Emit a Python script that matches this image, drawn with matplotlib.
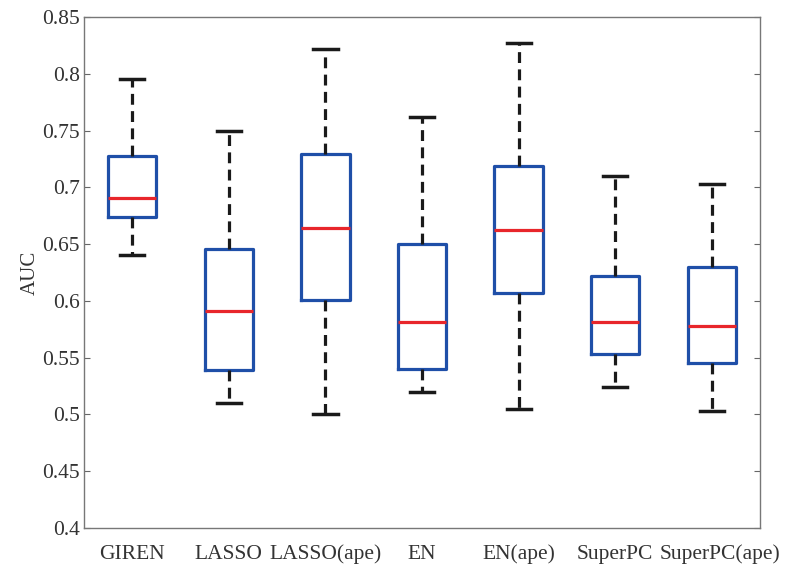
import matplotlib
matplotlib.use("Agg")
import matplotlib.pyplot as plt
from matplotlib.transforms import ScaledTranslation

methods = ["GIREN", "LASSO", "LASSO(ape)", "EN", "EN(ape)", "SuperPC", "SuperPC(ape)"]
whislo = [0.640, 0.510, 0.500, 0.520, 0.505, 0.524, 0.503]
q1 = [0.674, 0.539, 0.601, 0.540, 0.607, 0.553, 0.545]
med = [0.691, 0.591, 0.664, 0.581, 0.662, 0.581, 0.578]
q3 = [0.728, 0.646, 0.729, 0.650, 0.719, 0.622, 0.630]
whishi = [0.795, 0.750, 0.822, 0.762, 0.827, 0.710, 0.703]
yticks = [0.4, 0.45, 0.5, 0.55, 0.6, 0.65, 0.7, 0.75, 0.8, 0.85]


def main():
    plt.rcParams['font.family'] = ['Liberation Serif', 'DejaVu Serif']

    fig = plt.figure(figsize=(7.88, 5.66), dpi=100)
    ax = fig.add_axes([0.1066, 0.0671, 0.8579, 0.9029])

    stats = []
    for i in range(len(methods)):
        stats.append(dict(label=methods[i], whislo=whislo[i], q1=q1[i], med=med[i],
                          q3=q3[i], whishi=whishi[i], fliers=[]))

    ax.bxp(stats, positions=range(1, len(methods) + 1), widths=0.5,
           showfliers=False, capwidths=0.25,
           boxprops=dict(color='#1f4fa8', linewidth=2.3),
           medianprops=dict(color='#e8262b', linewidth=2.3),
           whiskerprops=dict(color='#1a1a1a', linewidth=2.3, linestyle=(0, (3.4, 2.0))),
           capprops=dict(color='#1a1a1a', linewidth=2.5))

    ax.set_xlim(0.5, 7.5)
    ax.set_ylim(0.4, 0.85)
    ax.set_yticks(yticks)
    ax.set_yticklabels([('%g' % v) for v in yticks])
    ax.set_ylabel('AUC', fontsize=15, color='#333333', labelpad=2)

    ax.tick_params(axis='y', direction='in', length=4, color='#666666',
                   labelsize=15.5, labelcolor='#333333', right=True, pad=3)
    ax.tick_params(axis='x', length=0, labelsize=15.5, labelcolor='#333333', pad=12)
    for s in ax.spines.values():
        s.set_color('#777777')
        s.set_linewidth(1.0)

    # last label sits a little to the right in the original so it doesn't touch its neighbour
    lab = ax.get_xticklabels()[-1]
    lab.set_transform(lab.get_transform() + ScaledTranslation(0.08, 0, fig.dpi_scale_trans))

    fig.savefig('out.png', dpi=100)


if __name__ == "__main__":
    main()
